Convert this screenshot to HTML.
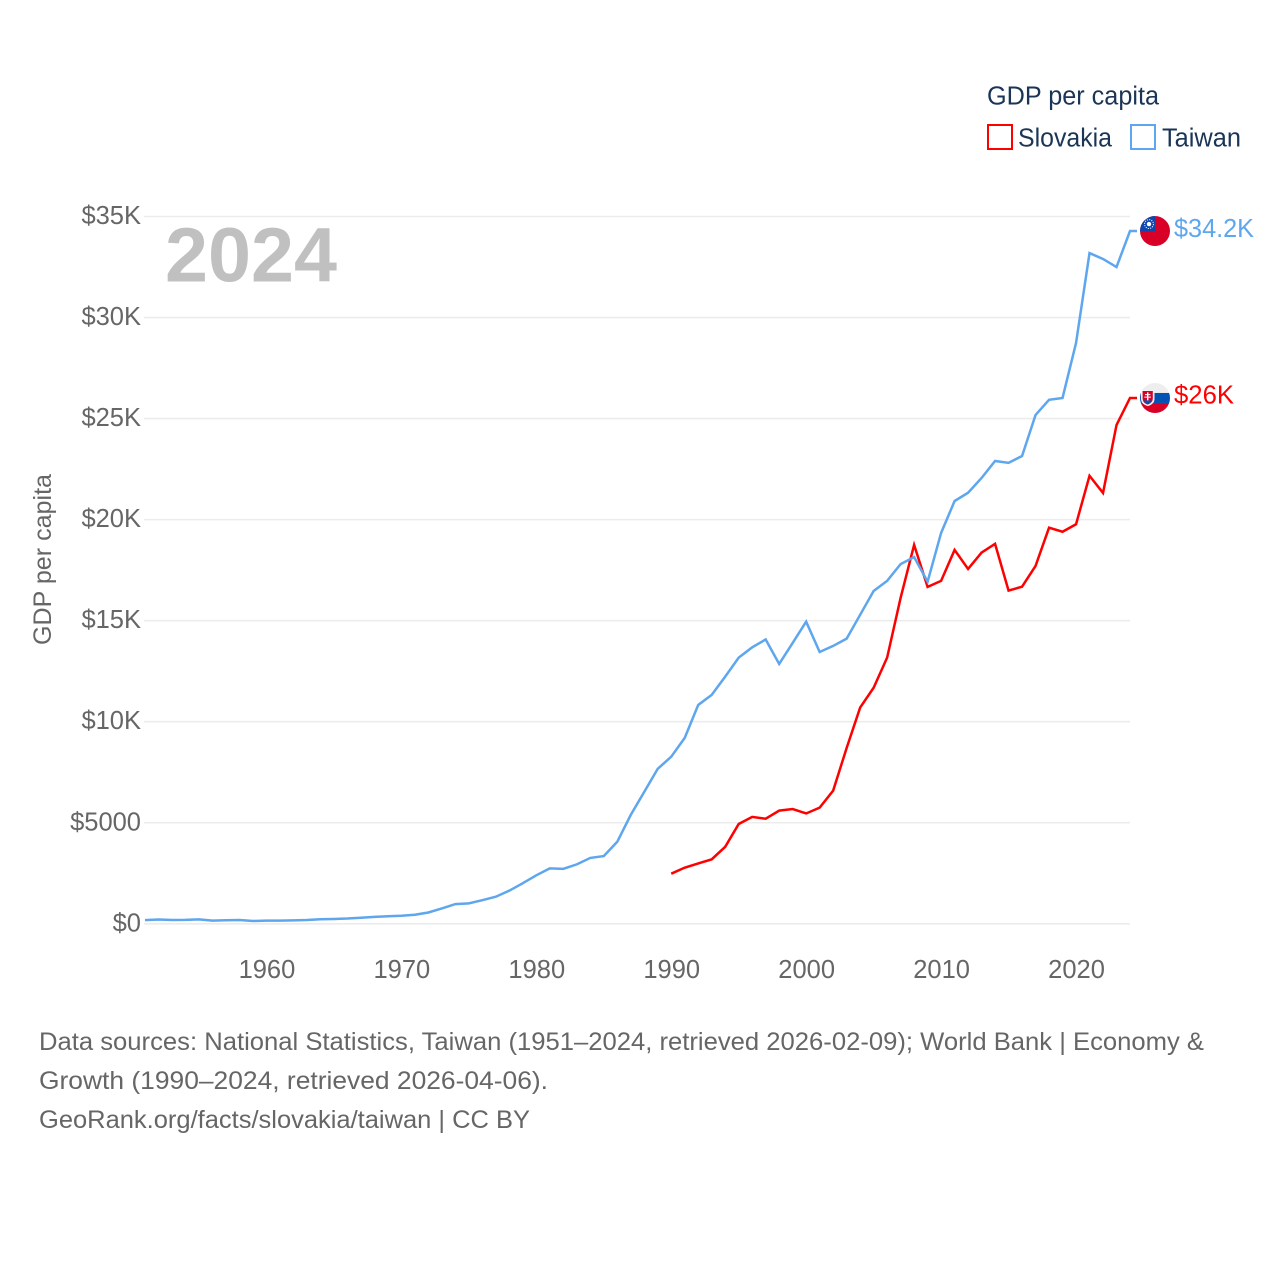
<!DOCTYPE html>
<html lang="en">
<head>
<meta charset="utf-8">
<title>GDP per capita: Slovakia and Taiwan</title>
<style>
html,body{margin:0;padding:0;background:#fff;}
svg{display:block;font-family:"Liberation Sans",sans-serif;}
</style>
</head>
<body>
<svg id="chart" width="1280" height="1280" viewBox="0 0 1280 1280" xmlns="http://www.w3.org/2000/svg">
  <defs>
    <clipPath id="flag-clip-tw"><circle cx="0" cy="0" r="15"/></clipPath>
    <clipPath id="flag-clip-sk"><circle cx="0" cy="0" r="15"/></clipPath>
  </defs>
  <rect x="0" y="0" width="1280" height="1280" fill="#fff"/>

  <g id="grid"></g>
  <g id="y-ticks"></g>
  <g id="x-ticks"></g>

  <text x="165" y="281.5" font-size="77" font-weight="700" fill="#c0c0c0" textLength="172" lengthAdjust="spacingAndGlyphs">2024</text>

  <text transform="translate(51,645) rotate(-90)" font-size="25" fill="#666" textLength="171" lengthAdjust="spacingAndGlyphs">GDP per capita</text>

  <g id="series"></g>

  <g id="flag-taiwan">
    <g clip-path="url(#flag-clip-tw)">
      <rect x="-15" y="-15" width="30" height="30" fill="#d80027"/>
      <rect x="-15" y="-15" width="15" height="15" fill="#0f47af"/>
      <circle cx="-6" cy="-7" r="2.2" fill="#fff"/>
      <circle cx="-6" cy="-7" r="4.4" fill="none" stroke="#fff" stroke-width="0.9" stroke-dasharray="1.2 1.1"/>
    </g>
  </g>
  <g id="flag-slovakia">
    <g clip-path="url(#flag-clip-sk)">
      <rect x="-15" y="-15" width="30" height="10" fill="#eeeeee"/>
      <rect x="-15" y="-5" width="30" height="10" fill="#0052b4"/>
      <rect x="-15" y="5" width="30" height="10" fill="#d80027"/>
      <path d="M-14,-8 H-0.5 V1 Q-0.5,6 -7.2,8.2 Q-14,6 -14,1 Z" fill="#f2f2f2"/>
      <path d="M-12.4,-7 H-2.2 V0.8 Q-2.2,4.8 -7.3,6.6 Q-12.4,4.8 -12.4,0.8 Z" fill="#d80027"/>
      <path d="M-8,-5.6 H-6.6 V-3.9 H-4.6 V-2.9 H-6.6 V-1.4 H-4 V-0.4 H-6.6 V2.4 H-8 V-0.4 H-10.6 V-1.4 H-8 V-2.9 H-10 V-3.9 H-8 Z" fill="#fff"/>
      <path d="M-11.6,3 Q-9,1.2 -7.3,3 Q-5.6,1.2 -3,3 Q-4.4,5.2 -7.3,6.2 Q-10.2,5.2 -11.6,3 Z" fill="#0052b4"/>
    </g>
  </g>
  <text id="label-taiwan" x="1174" font-size="25.5" fill="#5ea6ee" textLength="80" lengthAdjust="spacingAndGlyphs">$34.2K</text>
  <text id="label-slovakia" x="1174" font-size="25.5" fill="#ff0000" textLength="60" lengthAdjust="spacingAndGlyphs">$26K</text>

  <g>
    <text x="987" y="104.5" font-size="25.5" fill="#1a3556" textLength="172" lengthAdjust="spacingAndGlyphs">GDP per capita</text>
    <g>
      <rect x="988" y="125" width="24" height="24" fill="#fff" stroke="#ff0000" stroke-width="2"/>
      <text x="1018" y="146.5" font-size="25.5" fill="#1a3556" textLength="94" lengthAdjust="spacingAndGlyphs">Slovakia</text>
    </g>
    <g>
      <rect x="1131" y="125" width="24" height="24" fill="#fff" stroke="#5ea6ee" stroke-width="2"/>
      <text x="1162" y="146.5" font-size="25.5" fill="#1a3556" textLength="79" lengthAdjust="spacingAndGlyphs">Taiwan</text>
    </g>
  </g>

  <g font-size="25" fill="#666">
    <text x="39" y="1050" textLength="1165" lengthAdjust="spacingAndGlyphs">Data sources: National Statistics, Taiwan (1951–2024, retrieved 2026-02-09); World Bank | Economy &amp;</text>
    <text x="39" y="1089" textLength="509" lengthAdjust="spacingAndGlyphs">Growth (1990–2024, retrieved 2026-04-06).</text>
    <text x="39" y="1128" textLength="491" lengthAdjust="spacingAndGlyphs">GeoRank.org/facts/slovakia/taiwan | CC BY</text>
  </g>
</svg>
<script>
const yTickValues = [0, 5000, 10000, 15000, 20000, 25000, 30000, 35000];
const yTickLabels = ['$0', '$5000', '$10K', '$15K', '$20K', '$25K', '$30K', '$35K'];
const xTickValues = [1960, 1970, 1980, 1990, 2000, 2010, 2020];
const taiwanStartYear = 1951;
const taiwanValues = [
  180, 215, 190, 195, 220, 160, 175, 185, 140, 155,
  155, 170, 190, 225, 240, 260, 300, 340, 375, 400,
  450, 560, 760, 975, 1010, 1170, 1340, 1640, 2010, 2400,
  2740, 2720, 2940, 3260, 3350, 4060, 5390, 6530, 7670, 8270,
  9200, 10830, 11330, 12230, 13170, 13680, 14070, 12860, 13900, 14950,
  13450, 13750, 14110, 15290, 16470, 16970, 17800, 18150, 16930, 19340,
  20920, 21330, 22060, 22900, 22810, 23150, 25180, 25930, 26020, 28740,
  33190, 32900, 32500, 34280
];
const slovakiaStartYear = 1990;
const slovakiaValues = [
  2480, 2780, 2990, 3190, 3810, 4940, 5290, 5200, 5600, 5680,
  5460, 5750, 6590, 8700, 10700, 11680, 13170, 16130, 18750, 16670,
  16970, 18500, 17560, 18370, 18800, 16490, 16680, 17710, 19600, 19400,
  19770, 22170, 21320, 24680, 26020
];

const NS = 'http://www.w3.org/2000/svg';
const plotLeft = 145, plotRight = 1130, plotTop = 216.5, plotBottom = 923.8;
const xMin = 1951, xMax = 2024, yMax = 35000;

function xScale(year) {
  return plotLeft + (year - xMin) / (xMax - xMin) * (plotRight - plotLeft);
}
function yScale(value) {
  return plotBottom - value / yMax * (plotBottom - plotTop);
}
function make(tag, attrs) {
  const el = document.createElementNS(NS, tag);
  for (const k in attrs) el.setAttribute(k, attrs[k]);
  return el;
}

const grid = document.getElementById('grid');
const yTicks = document.getElementById('y-ticks');
const xTicks = document.getElementById('x-ticks');
const series = document.getElementById('series');

yTickValues.forEach(function (v, i) {
  const line = make('line', {x1: plotLeft - 1, x2: plotRight, y1: yScale(v), y2: yScale(v), stroke: '#ececec', 'stroke-width': 1.6});
  
  
  grid.appendChild(line);
  const t = make('text', {x: 141, y: yScale(v) + 7.5, 'text-anchor': 'end', 'font-size': 25.5, fill: '#666'});
  t.textContent = yTickLabels[i];
  
  
  yTicks.appendChild(t);
});

xTickValues.forEach(function (year) {
  const t = make('text', {x: xScale(year) + 0.5, y: 978, 'text-anchor': 'middle', 'font-size': 25.5, fill: '#666'});
  t.textContent = String(year);
  
  
  xTicks.appendChild(t);
});

function drawSeries(values, startYear, color) {
  const pts = values.map(function (v, i) {
    return xScale(startYear + i).toFixed(2) + ',' + yScale(v).toFixed(2);
  });
  const last = values[values.length - 1];
  pts.push((plotRight + 7) + ',' + yScale(last).toFixed(2));
  return make('polyline', {points: pts.join(' '), fill: 'none', stroke: color, 'stroke-width': 2.5, 'stroke-linejoin': 'miter'});
}

const slovakiaLine = drawSeries(slovakiaValues, slovakiaStartYear, '#ff0000');


series.appendChild(slovakiaLine);

const taiwanLine = drawSeries(taiwanValues, taiwanStartYear, '#5ea6ee');


series.appendChild(taiwanLine);

const twLast = yScale(taiwanValues[taiwanValues.length - 1]);
const skLast = yScale(slovakiaValues[slovakiaValues.length - 1]);
document.getElementById('flag-taiwan').setAttribute('transform', 'translate(1155,' + twLast + ')');
document.getElementById('flag-slovakia').setAttribute('transform', 'translate(1155,' + skLast + ')');
document.getElementById('label-taiwan').setAttribute('y', twLast + 6);
document.getElementById('label-slovakia').setAttribute('y', skLast + 5.5);
</script>
</body>
</html>
